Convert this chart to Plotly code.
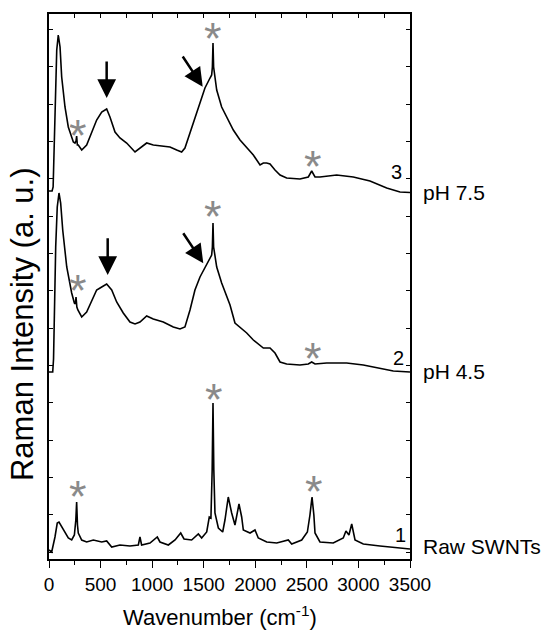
import plotly.graph_objects as go

# Wavenumber (cm-1) and intensity (a.u., offset stacked) for each spectrum
x_ph75 = [0, 30, 40, 48, 58, 75, 90, 107, 123, 155, 187, 236, 252, 262, 268, 275, 284, 317, 365, 414, 462, 511, 559, 591, 640, 688, 753, 834, 882, 947, 1011, 1108, 1173, 1238, 1286, 1318, 1367, 1415, 1464, 1512, 1561, 1577, 1584, 1590, 1596, 1604, 1626, 1674, 1723, 1787, 1852, 1917, 1981, 2046, 2078, 2110, 2143, 2191, 2240, 2304, 2433, 2514, 2547, 2579, 2627, 2789, 2950, 3112, 3274, 3403, 3500]
y_ph75 = [368, 368, 372, 410, 449, 509, 524, 512, 482, 452, 432, 417, 416, 418, 423, 414, 414, 409, 414, 426, 439, 447, 450, 442, 427, 421, 416, 407, 411, 416, 414, 413, 412, 409, 407, 411, 426, 442, 457, 471, 481, 484, 492, 516, 492, 484, 469, 452, 442, 429, 419, 411, 404, 394, 396, 396, 395, 389, 384, 381, 380, 382, 388, 382, 382, 384, 382, 378, 371, 367, 366.5]

x_ph45 = [0, 36, 44, 52, 65, 80, 97, 113, 133, 172, 220, 246, 256, 262, 270, 280, 317, 365, 414, 462, 511, 559, 608, 656, 720, 785, 834, 882, 947, 1011, 1108, 1205, 1270, 1318, 1367, 1415, 1464, 1512, 1561, 1577, 1584, 1590, 1596, 1604, 1626, 1674, 1723, 1755, 1803, 1852, 1917, 1981, 2046, 2078, 2143, 2191, 2240, 2304, 2433, 2514, 2547, 2579, 2692, 2886, 3047, 3209, 3338, 3500]
y_ph45 = [187, 187, 200, 260, 312, 352, 366, 356, 329, 292, 266, 256, 255, 262, 252, 249, 242, 247, 259, 269, 272, 275, 269, 257, 246, 237, 235, 237, 243, 240, 237, 232, 230, 232, 249, 269, 282, 291, 301, 304, 312, 336, 312, 307, 292, 276, 262, 254, 236, 232, 226, 219, 214, 211, 211, 206, 197, 195, 194, 195, 197, 195, 196, 196, 194, 191, 188, 187]

x_raw = [0, 26, 58, 80, 97, 139, 187, 220, 246, 260, 268, 276, 284, 317, 365, 430, 511, 559, 608, 688, 785, 866, 882, 898, 979, 1050, 1076, 1157, 1222, 1277, 1309, 1383, 1448, 1480, 1529, 1554, 1570, 1582, 1590, 1598, 1609, 1642, 1684, 1706, 1738, 1771, 1803, 1842, 1868, 1884, 1949, 1997, 2029, 2111, 2208, 2320, 2353, 2450, 2505, 2530, 2550, 2568, 2579, 2627, 2756, 2853, 2879, 2908, 2935, 2967, 3047, 3209, 3371, 3500]
y_raw = [9, 7, 22, 36, 37, 29, 21, 19, 24, 39, 57, 34, 26, 19, 17, 19, 17, 18, 12, 14, 13, 14, 22, 14, 16, 22, 17, 14, 19, 26, 20, 19, 25, 21, 27, 42, 41, 89, 156, 89, 46, 31, 27, 39, 62, 46, 34, 55, 42, 29, 26, 29, 21, 17, 16, 19, 15, 19, 27, 44, 62, 44, 26, 17, 16, 21, 28, 24, 35, 19, 15, 13, 11, 10]

# labels
trace_numbers = ["3", "2", "1"]
number_pos = [(3371, 386.7), (3386, 201), (3403, 24)]
side_labels = ["pH 7.5", "pH 4.5", "Raw SWNTs"]
side_label_y = [367, 187.3, 12.3]
star_pos = [(284, 430.7), (1587, 527.3), (2562, 399.7),
            (284, 275.7), (1587, 349.7), (2562, 207.3),
            (284, 69.7), (1600, 166.3), (2566, 74.7)]
# arrows: (tail_x, tail_y, tip_x, tip_y)
arrows = [(559, 499, 559, 461), (1287, 504, 1490, 472.3),
          (569, 322.3, 569, 284), (1292, 327.3, 1496, 295.7)]
x_title = "Wavenumber (cm<sup>-1</sup>)"
y_title = "Raman Intensity (a. u.)"

FONT = "Liberation Sans, Arial, sans-serif"

fig = go.Figure()
for xs, ys in [(x_ph75, y_ph75), (x_ph45, y_ph45), (x_raw, y_raw)]:
    fig.add_trace(go.Scatter(x=xs, y=ys, mode="lines",
                             line=dict(color="black", width=1.6),
                             showlegend=False, hoverinfo="skip"))
# invisible trace carrying the top axis
fig.add_trace(go.Scatter(x=[0, 3500], y=[0, 0], xaxis="x2", mode="lines",
                         line=dict(width=0), showlegend=False, hoverinfo="skip"))

ann = []
for t, (x, y) in zip(trace_numbers, number_pos):
    ann.append(dict(x=x, y=y, xref="x", yref="y", text=t, showarrow=False,
                    font=dict(family=FONT, size=20, color="black"),
                    xanchor="center", yanchor="middle"))
for t, y in zip(side_labels, side_label_y):
    ann.append(dict(x=1.03, y=y, xref="paper", yref="y", text=t, showarrow=False,
                    font=dict(family=FONT, size=21, color="black"),
                    xanchor="left", yanchor="middle"))
for (x, y) in star_pos:
    ann.append(dict(x=x, y=y, xref="x", yref="y", text="*", showarrow=False,
                    font=dict(family=FONT, size=45, color="#8a8a8a"),
                    xanchor="center", yanchor="middle", yshift=-7))
for (tx, ty, hx, hy) in arrows:
    ann.append(dict(x=hx, y=hy, ax=tx, ay=ty, xref="x", yref="y",
                    axref="x", ayref="y", text="", showarrow=True,
                    arrowhead=2, arrowsize=1.5, arrowwidth=2.5,
                    arrowcolor="black", standoff=0))
ann.append(dict(x=0.4737, y=-0.104, xref="paper", yref="paper", text=x_title,
                showarrow=False, font=dict(family=FONT, size=22, color="black"),
                xanchor="center", yanchor="middle"))
ann.append(dict(x=-0.075, y=0.431, xref="paper", yref="paper", text=y_title,
                showarrow=False, textangle=-90,
                font=dict(family=FONT, size=31, color="black"),
                xanchor="center", yanchor="middle"))

fig.update_layout(
    width=546, height=631,
    margin=dict(l=49, r=136, t=14, b=72),
    paper_bgcolor="white", plot_bgcolor="white",
    font=dict(family=FONT, color="black"),
    xaxis=dict(range=[0, 3500], tickmode="linear", tick0=0, dtick=500,
               ticks="outside", ticklen=7, tickwidth=1.3, tickcolor="black",
               minor=dict(ticks="outside", ticklen=4, tickwidth=1.3, dtick=250, tick0=0, tickcolor="black"),
               showline=True, linecolor="black", linewidth=1.5,
               showgrid=False, zeroline=False,
               tickfont=dict(family=FONT, size=19)),
    xaxis2=dict(range=[0, 3500], overlaying="x", side="top", tickmode="linear",
                tick0=0, dtick=250, ticks="inside", ticklen=4, tickwidth=1.3,
                tickcolor="black", showticklabels=False, showline=True,
                linecolor="black", linewidth=1.5, showgrid=False, zeroline=False),
    yaxis=dict(range=[0, 545], tickmode="linear", tick0=7, dtick=37.33,
               ticks="inside", ticklen=4, tickwidth=1.3, tickcolor="black",
               showticklabels=False, showline=True, mirror="ticks",
               linecolor="black", linewidth=1.5, showgrid=False, zeroline=False),
    annotations=ann,
)

fig.write_html("out.html")
